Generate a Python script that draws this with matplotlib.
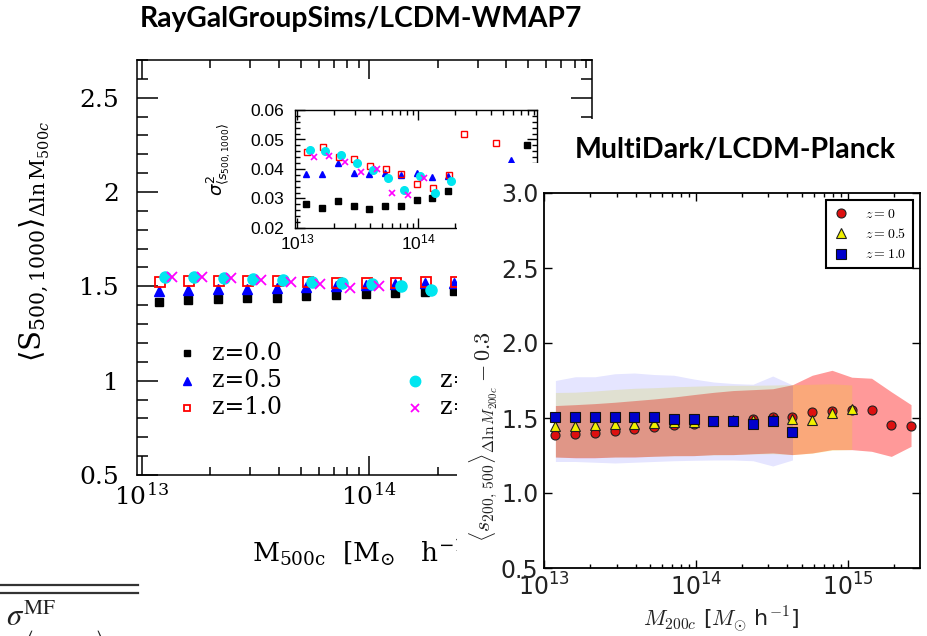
import numpy as np
import matplotlib
matplotlib.use("Agg")
import matplotlib.pyplot as plt
from matplotlib.patches import Rectangle
from matplotlib.lines import Line2D
from matplotlib.transforms import Bbox, TransformedBbox
from matplotlib.ticker import LogLocator, MultipleLocator, NullFormatter

nan = np.nan
W, H = 928, 636

# mass bins shared by the samples: log10(M / [Msun/h])
log_mass = 13.075 + 0.13 * np.arange(19)

# ---------------- RayGalGroupSims / LCDM-WMAP7 ----------------
ray_labels = ["z=0.0", "z=0.5", "z=1.0", "z=1.5", "z=2.0"]
ray_slope_z00 = [1.415, 1.428, 1.433, 1.438, 1.438, 1.449, 1.454, 1.459, 1.465, 1.472, 1.477]
ray_slope_z05 = [1.474, 1.483, 1.486, 1.488, 1.493, 1.498, 1.504, 1.507, 1.511, 1.517, 1.517]
ray_slope_z10 = [1.525, 1.526, 1.526, 1.530, 1.528, 1.525, 1.517, 1.516, 1.516, 1.525, 1.521]
ray_slope_z15 = [1.548, 1.548, 1.546, 1.539, 1.533, 1.525, 1.516, 1.511, 1.500, 1.480]
ray_slope_z20 = [1.548, 1.548, 1.544, 1.535, 1.525, 1.512, 1.491, 1.504]

ray_var_z00 = [0.0280, 0.0269, 0.0291, 0.0274, 0.0264, 0.0274, 0.0276, 0.0294, 0.0300, 0.0325,
               nan, nan, nan, nan, 0.0481]
ray_var_z05 = [0.0382, 0.0382, 0.0421, 0.0388, 0.0382, 0.0388, 0.0379, 0.0388, 0.0373, 0.0375,
               nan, nan, nan, 0.0430]
ray_var_z10 = [0.0456, 0.0473, 0.0441, 0.0433, 0.0411, 0.0399, 0.0382, 0.0348, 0.0336, 0.0379,
               0.0517, nan, 0.0489]
ray_var_z15 = [0.0464, 0.0461, 0.0447, 0.0419, 0.0396, 0.0368, 0.0330, 0.0376, 0.0320, 0.0359]
ray_var_z20 = [0.0441, 0.0444, 0.0423, 0.0389, 0.0399, 0.0320, 0.0311, 0.0368]

# ---------------- MultiDark / LCDM-Planck ----------------
md_labels = ["$z=0$", "$z=0.5$", "$z=1.0$"]
md_slope_z0 = [1.389, 1.395, 1.402, 1.414, 1.428, 1.439, 1.453, 1.461, 1.478, 1.480,
               1.495, 1.509, 1.508, 1.539, 1.545, 1.556, 1.554, 1.456, 1.444]
md_lo_z0 = [1.240, 1.235, 1.235, 1.240, 1.240, 1.245, 1.249, 1.249, 1.256, 1.256,
            1.262, 1.267, 1.256, 1.267, 1.289, 1.289, 1.278, 1.244, 1.311]
md_hi_z0 = [1.583, 1.589, 1.596, 1.605, 1.616, 1.627, 1.640, 1.656, 1.671, 1.683,
            1.689, 1.695, 1.722, 1.785, 1.818, 1.772, 1.765, 1.675, 1.589]
md_slope_z05 = [1.445, 1.449, 1.455, 1.460, 1.462, 1.467, 1.471, 1.475, 1.480, 1.485,
                1.490, 1.495, 1.496, 1.487, 1.533, 1.560]
md_lo_z05 = [1.240, 1.238, 1.238, 1.240, 1.242, 1.245, 1.248, 1.250, 1.254, 1.256,
             1.260, 1.262, 1.256, 1.265, 1.285, 1.290]
md_hi_z05 = [1.670, 1.672, 1.680, 1.690, 1.698, 1.702, 1.708, 1.712, 1.716, 1.718,
             1.718, 1.720, 1.722, 1.725, 1.728, 1.720]
md_slope_z10 = [1.507, 1.507, 1.507, 1.507, 1.507, 1.507, 1.493, 1.493, 1.478, 1.478,
                1.462, 1.478, 1.407]
md_lo_z10 = [1.210, 1.210, 1.205, 1.200, 1.205, 1.210, 1.215, 1.218, 1.220, 1.220,
             1.215, 1.180, 1.220]
md_hi_z10 = [1.750, 1.775, 1.775, 1.795, 1.800, 1.790, 1.785, 1.760, 1.740, 1.730,
             1.725, 1.780, 1.720]

SERIF = "DejaVu Serif"
SANS = "Liberation Sans"

fig = plt.figure(figsize=(W / 100, H / 100), dpi=100)
fig.patch.set_facecolor("white")


def box(x0, y0, x1, y1):
    """Axes rectangle from pixel edges measured from the top-left corner."""
    return [x0 / W, 1 - y1 / H, (x1 - x0) / W, (y1 - y0) / H]


def xy(series, shift=0.0):
    v = np.asarray(series, dtype=float)
    return 10 ** (log_mass[: len(v)] + shift), v


# marker style per redshift and small horizontal offsets in dex
ray_styles = [
    dict(marker="s", mfc="k", mec="k"),
    dict(marker="^", mfc="#0000ff", mec="#0000ff"),
    dict(marker="s", mfc="none", mec="#ff0000"),
    dict(marker="o", mfc="#00e6f0", mec="#00e6f0"),
    dict(marker="x", mfc="#ff00ff", mec="#ff00ff"),
]
ray_shift = [0.0, 0.0, 0.005, 0.026, 0.06]
main_size = [6, 6.5, 6.5, 8, 6.5]
main_mew = [1, 1, 1.3, 1, 1.3]
inset_size = [4.3, 4.5, 4.8, 5.5, 4.5]
inset_mew = [1, 1, 1.0, 1, 1.2]

ray_slopes = [ray_slope_z00, ray_slope_z05, ray_slope_z10, ray_slope_z15, ray_slope_z20]
ray_vars = [ray_var_z00, ray_var_z05, ray_var_z10, ray_var_z15, ray_var_z20]

# the MultiDark panel is pasted over everything right of this line
page_edge = TransformedBbox(Bbox([[0, 0], [457 / W, 1]]), fig.transFigure)

# ---------------- main RayGal panel ----------------
ax = fig.add_axes(box(137, 60, 592, 475), zorder=0)
ax.set_xscale("log")
ax.set_xlim(10 ** 12.98, 10 ** 14.98)
ax.set_ylim(0.5, 2.7)
for s in ax.spines.values():
    s.set_linewidth(1.1)
ax.set_xticks([1e13, 1e14], [r"$\mathdefault{10^{13}}$", r"$\mathdefault{10^{14}}$"],
              fontfamily=SERIF, fontsize=18)
ax.xaxis.set_minor_locator(LogLocator(10, subs=np.arange(2, 10), numticks=20))
ax.xaxis.set_minor_formatter(NullFormatter())
ax.set_yticks([0.5, 1, 1.5, 2, 2.5], ["0.5", "1", "1.5", "2", "2.5"],
              fontfamily=SERIF, fontsize=18)
ax.yaxis.set_minor_locator(MultipleLocator(0.1))
ax.tick_params(which="both", direction="in", top=True, right=True, width=1.1)
ax.tick_params(axis="x", which="major", length=14, pad=6)
ax.tick_params(axis="x", which="minor", length=6)
ax.tick_params(axis="y", which="major", length=15, pad=13)
ax.tick_params(axis="y", which="minor", length=8)

for vals, st, sh, ms, mw in zip(ray_slopes, ray_styles, ray_shift, main_size, main_mew):
    x, y = xy(vals, sh)
    ax.plot(x, y, ls="none", ms=ms, mew=mw, **st)

ax.set_xlabel(r"$\mathrm{M_{500c}\ \ [M_{\odot}\ \ \ h^{-1}]}$", fontsize=19,
              math_fontfamily="dejavuserif")
ax.xaxis.label.set_ha("left")
ax.xaxis.set_label_coords((252 - 137) / 455, -(536 - 475) / 415)
ax.xaxis.label.set_clip_box(page_edge)
ax.xaxis.label.set_clip_on(True)
ax.set_ylabel(r"$\langle \mathrm{S}_{500,1000} \rangle_{\Delta \ln \mathrm{M}_{500c}}$",
              fontsize=21, math_fontfamily="dejavuserif")
ax.yaxis.set_label_coords((52 - 137) / 455, (475 - 242) / 415)

# hand-placed two-column key
key_pos = [(187, 353), (187, 380.7), (187, 408), (415, 380.7), (415, 408)]
key_size = [5, 6, 5, 7.5, 5.5]
for i, (px, py) in enumerate(key_pos):
    fx, fy = (px - 137) / 455, (475 - py) / 415
    ax.plot([fx], [fy], transform=ax.transAxes, ls="none", clip_on=False,
            ms=key_size[i], mew=main_mew[i], **ray_styles[i])
    t = ax.text(fx + 25 / 455, fy, ray_labels[i], transform=ax.transAxes, va="center",
                ha="left", fontfamily=SERIF, fontsize=17)
    t.set_clip_box(page_edge)
    t.set_clip_on(True)

# ---------------- variance inset ----------------
axi = fig.add_axes(box(295, 110, 537, 228), zorder=1)
axi.set_xscale("log")
axi.set_xlim(10 ** 12.98, 10 ** 14.98)
axi.set_ylim(0.02, 0.06)
for s in axi.spines.values():
    s.set_linewidth(1.0)
axi.set_xticks([1e13, 1e14], [r"$\mathdefault{10^{13}}$", r"$\mathdefault{10^{14}}$"],
               fontfamily=SANS, fontsize=12.5)
axi.xaxis.set_minor_locator(LogLocator(10, subs=np.arange(2, 10), numticks=20))
axi.xaxis.set_minor_formatter(NullFormatter())
axi.set_yticks([0.02, 0.03, 0.04, 0.05, 0.06], ["0.02", "0.03", "0.04", "0.05", "0.06"],
               fontfamily=SANS, fontsize=12.5)
axi.yaxis.set_minor_locator(MultipleLocator(0.002))
axi.tick_params(which="both", direction="in", top=True, right=True, width=1.0)
axi.tick_params(which="major", length=7)
axi.tick_params(which="minor", length=3.5)
axi.tick_params(axis="x", pad=3)
axi.tick_params(axis="y", pad=8)
for vals, st, sh, ms, mw in zip(ray_vars, ray_styles, ray_shift, inset_size, inset_mew):
    x, y = xy(vals, sh)
    axi.plot(x, y, ls="none", ms=ms, mew=mw, **st)
axi.set_ylabel(r"$\sigma^2_{\langle s_{500,1000}\rangle}$", fontsize=13)
axi.yaxis.set_label_coords((233 - 295) / 242, (228 - 160) / 118)

# white page area on which the MultiDark panel sits
for (x0, y0, x1, y1) in [(457, 163, 928, 636), (560, 119, 928, 163)]:
    fig.add_artist(Rectangle((x0 / W, 1 - y1 / H), (x1 - x0) / W, (y1 - y0) / H,
                             transform=fig.transFigure, facecolor="white",
                             edgecolor="none", zorder=2))

# ---------------- MultiDark panel ----------------
axr = fig.add_axes(box(544, 193, 920, 568), zorder=3)
axr.set_xscale("log")
axr.set_xlim(1e13, 10 ** 15.474)
axr.set_ylim(0.5, 3.0)
for s in axr.spines.values():
    s.set_linewidth(1.3)
axr.set_xticks([1e13, 1e14, 1e15])
axr.xaxis.set_minor_locator(LogLocator(10, subs=np.arange(2, 10), numticks=20))
axr.xaxis.set_minor_formatter(NullFormatter())
axr.set_yticks([0.5, 1.0, 1.5, 2.0, 2.5, 3.0])
axr.tick_params(which="both", direction="in", top=True, right=True, width=1.0,
                labelsize=17, labelcolor="#222222")
axr.tick_params(which="major", length=6, pad=4)
axr.tick_params(which="minor", length=3)

mdx0, _ = xy(md_slope_z0)
mdx05, _ = xy(md_slope_z05)
mdx10, _ = xy(md_slope_z10)
axr.fill_between(mdx0, md_lo_z0, md_hi_z0, color="#ff0000", alpha=0.4, lw=0)
axr.plot(mdx0, md_slope_z0, ls="none", marker="o", ms=6.5, mfc="#dd1010", mec="#202020", mew=0.8)
axr.fill_between(mdx05, md_lo_z05, md_hi_z05, color="#e6e600", alpha=0.2, lw=0)
axr.plot(mdx05, md_slope_z05, ls="none", marker="^", ms=6.5, mfc="#f0f000", mec="#202020", mew=0.8)
axr.fill_between(mdx10, md_lo_z10, md_hi_z10, color="#0000ff", alpha=0.1, lw=0)
axr.plot(mdx10, md_slope_z10, ls="none", marker="s", ms=6.5, mfc="#0000cc", mec="#101010", mew=0.8)

handles = [
    Line2D([], [], ls="none", marker="o", ms=6.5, mfc="#dd1010", mec="#202020", mew=0.8),
    Line2D([], [], ls="none", marker="^", ms=6.5, mfc="#f0f000", mec="#202020", mew=0.8),
    Line2D([], [], ls="none", marker="s", ms=6.5, mfc="#0000cc", mec="#101010", mew=0.8),
]
leg = axr.legend(handles, md_labels, loc="upper right", fontsize=10, numpoints=1,
                 fancybox=False, framealpha=1, borderaxespad=0.5, handlelength=1.2,
                 handletextpad=1.1, labelspacing=0.45, borderpad=0.5)
leg.get_frame().set_edgecolor("k")
leg.get_frame().set_linewidth(1.5)
for t in leg.get_texts():
    t.set_math_fontfamily("cm")

axr.set_xlabel(r"$M_{200c}$ [$M_{\odot}$ h$^{-1}$]", fontsize=16, math_fontfamily="cm",
               color="#222222")
axr.xaxis.label.set_ha("left")
axr.xaxis.set_label_coords((643 - 544) / 376, -(604 - 568) / 375)
axr.set_ylabel(r"$\langle s_{200,\,500}\rangle_{\Delta \ln M_{200c}} - 0.3$", fontsize=16,
               math_fontfamily="cm", color="#222222")
axr.yaxis.set_label_coords((500 - 544) / 376, (568 - 437) / 375)

# ---------------- slide titles ----------------
t1 = fig.text(140 / W, 1 - 27 / H, "RayGalGroupSims/LCDM-WMAP7", fontfamily="Lato",
              fontweight="bold", fontsize=17, ha="left", va="baseline", zorder=4)
t2 = fig.text(575 / W, 1 - 158 / H, "MultiDark/LCDM-Planck", fontfamily="Lato",
              fontweight="bold", fontsize=15, ha="left", va="baseline", zorder=4)
renderer = fig.canvas.get_renderer()
for txt, target in [(t1, 442), (t2, 322)]:
    w = txt.get_window_extent(renderer=renderer).width
    txt.set_fontsize(txt.get_fontsize() * target / w)

# ---------------- table fragment at the bottom left ----------------
for yy in (585, 593):
    fig.add_artist(Line2D([0, 138 / W], [1 - yy / H] * 2, transform=fig.transFigure,
                          color="#333333", lw=1.6, zorder=4))
fig.text(6 / W, 1 - 626 / H, r"$\sigma^{\mathrm{MF}}$", math_fontfamily="stix",
         fontsize=22, color="#222222", ha="left", va="baseline", zorder=4)
fig.text(24 / W, 1 - 646 / H, r"$\langle s_{200,500}\rangle$", math_fontfamily="stix",
         fontsize=16, color="#222222", ha="left", va="baseline", zorder=4)

fig.savefig("out.png", dpi=100)
